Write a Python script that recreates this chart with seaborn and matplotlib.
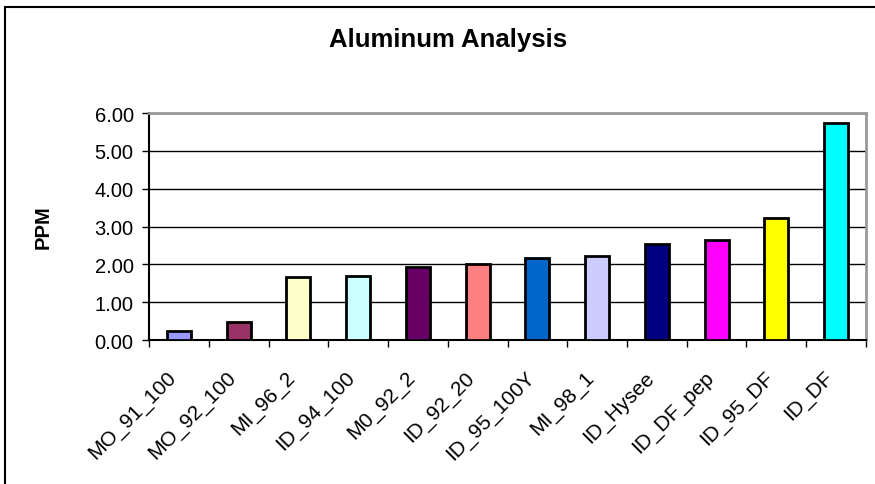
import pandas as pd
import seaborn as sns
import matplotlib.pyplot as plt
from matplotlib.patches import Rectangle
from matplotlib.transforms import ScaledTranslation
import numpy as np

samples = ['MO_91_100', 'MO_92_100', 'MI_96_2', 'ID_94_100', 'M0_92_2', 'ID_92_20',
           'ID_95_100Y', 'MI_98_1', 'ID_Hysee', 'ID_DF_pep', 'ID_95_DF', 'ID_DF']
ppm = [0.25, 0.48, 1.66, 1.68, 1.94, 2.01, 2.17, 2.22, 2.54, 2.65, 3.22, 5.73]
colors = ['#9999FF', '#993366', '#FFFFCC', '#CCFFFF', '#660066', '#FF8080',
          '#0066CC', '#CCCCFF', '#000080', '#FF00FF', '#FFFF00', '#00FFFF']

sns.set_style('white')
plt.rcParams['font.family'] = ['Liberation Sans', 'DejaVu Sans']
for key in ['text.color', 'axes.labelcolor', 'xtick.color', 'ytick.color']:
    plt.rcParams[key] = 'black'

df = pd.DataFrame({'sample': samples, 'ppm': ppm})

fig = plt.figure(figsize=(8.75, 4.85), dpi=100)
ax = fig.add_axes([0.1703, 0.2969, 0.8194, 0.468])
sns.barplot(data=df, x='sample', y='ppm', hue='sample', palette=colors, saturation=1,
            legend=False, width=0.4, edgecolor='black', linewidth=2, ax=ax, zorder=3)

ax.set_ylim(0, 6)
ax.set_xlim(-0.5, len(samples) - 0.5)
ax.set_yticks(np.arange(0, 7, 1))
ax.set_yticklabels([f'{v:.2f}' for v in range(7)], fontsize=14.5)
ax.yaxis.grid(True, color='black', linewidth=1, zorder=0)
ax.tick_params(axis='y', length=5, width=1, color='black', left=True, pad=6)

# category labels, slanted like the spreadsheet original
ax.set_xticks(np.arange(len(samples)))
ax.set_xticklabels([])
ax.tick_params(axis='x', which='major', length=0)
offset = ScaledTranslation(-0.06, -0.34, fig.dpi_scale_trans)
for i, name in enumerate(samples):
    ax.text(i, 0, name, transform=ax.get_xaxis_transform() + offset,
            rotation=45, ha='right', va='center', rotation_mode='anchor',
            fontsize=15)
ax.set_xticks(np.arange(-0.5, len(samples)), minor=True)
ax.tick_params(axis='x', which='minor', length=5, width=1, color='black', bottom=True)

for side in ['left', 'bottom']:
    ax.spines[side].set_color('black')
    ax.spines[side].set_linewidth(1.5)
for side in ['top', 'right']:
    ax.spines[side].set_color('#999999')
    ax.spines[side].set_linewidth(2)

ax.set_xlabel('')
ax.set_ylabel('PPM', fontsize=14.5, fontweight='bold')
ax.yaxis.set_label_coords(-0.134, 0.5)
fig.text(0.512, 0.918, 'Aluminum Analysis', ha='center', va='center',
         fontsize=18.5, fontweight='bold')

fig.patches.append(Rectangle((5 / 875, -0.02), 1.1, 1 - 8 / 485 + 0.02,
                             transform=fig.transFigure, fill=False,
                             edgecolor='black', linewidth=1.5))

fig.savefig('out.png', dpi=100)
